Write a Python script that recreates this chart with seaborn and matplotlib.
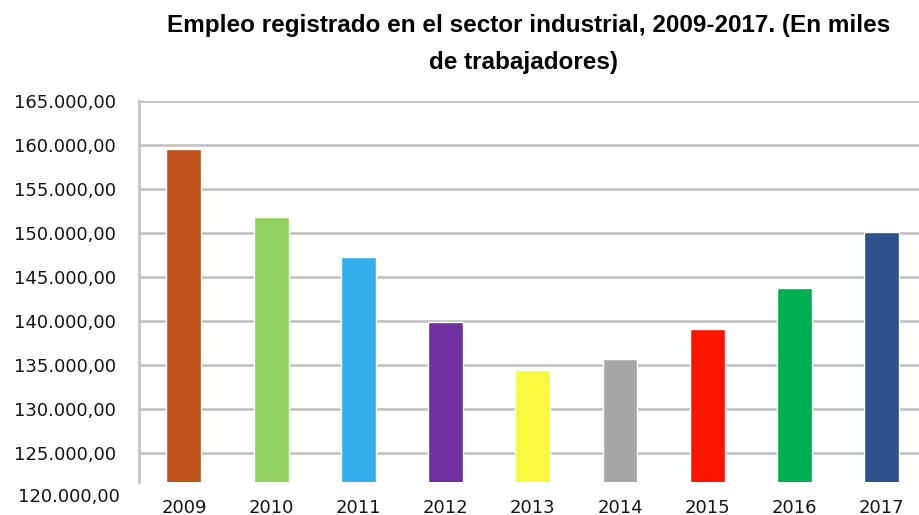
import matplotlib
matplotlib.use("Agg")
import matplotlib.pyplot as plt
import matplotlib.transforms as mtransforms
import seaborn as sns
import pandas as pd

# data
years = ["2009", "2010", "2011", "2012", "2013", "2014", "2015", "2016", "2017"]
empleo = [159500, 151800, 147250, 139900, 134500, 135750, 139150, 143800, 150100]
colores = ["#C0531C", "#92D060", "#33AEEA", "#7030A0", "#F8F83C",
           "#A6A6A6", "#FF1400", "#00B050", "#2F528F"]
y_ticks = [120000, 125000, 130000, 135000, 140000, 145000, 150000, 155000, 160000, 165000]

df = pd.DataFrame({"anio": years, "empleo": empleo})

def fmt_es(v):
    s = f"{v:,.2f}"
    return s.replace(",", "X").replace(".", ",").replace("X", ".")

sns.set_style("white")
plt.rcParams["font.family"] = ["DejaVu Sans"]

fig = plt.figure(figsize=(9.2, 5.15), dpi=100)
ax = fig.add_axes([0.1514, 0.0641, 0.8486, 0.7404])

sns.barplot(data=df, x="anio", y="empleo", hue="anio", palette=colores,
            legend=False, width=0.4, saturation=1, ax=ax)

ax.set_ylim(121750, 165000)
ax.set_xlim(-0.512, 8.44)
shown = [t for t in y_ticks if t > 121750]
ax.set_yticks(shown)
ax.set_yticklabels([fmt_es(t) for t in shown])
ax.yaxis.grid(True, color="#c4c4c4", linewidth=2)
ax.set_axisbelow(True)
ax.tick_params(axis="y", length=6, width=2, color="#c4c4c4", pad=11,
               labelsize=13, labelcolor="#141414")
ax.tick_params(axis="x", length=0, pad=12, labelsize=13, labelcolor="#141414")

# the lowest tick label sits below the plot area in the reference
trans = mtransforms.blended_transform_factory(ax.transAxes, ax.transData)
ax.text(-0.0245, y_ticks[0], fmt_es(y_ticks[0]), transform=trans,
        ha="right", va="center", fontsize=13, color="#141414", clip_on=False)

for side in ["top", "right", "bottom"]:
    ax.spines[side].set_visible(False)
ax.spines["left"].set_color("#c4c4c4")
ax.spines["left"].set_linewidth(2)

ax.set_xlabel("")
ax.set_ylabel("")

title_font = ["Liberation Sans Narrow", "Liberation Sans"]
fig.text(0.5745, 0.951, "Empleo registrado en el sector industrial, 2009-2017. (En miles",
         ha="center", va="center", fontsize=17.5, fontweight="bold",
         color="black", family=title_font)
fig.text(0.5685, 0.879, "de trabajadores)",
         ha="center", va="center", fontsize=17.5, fontweight="bold",
         color="black", family=title_font)

fig.savefig("out.png", dpi=100)
plt.close("all")
